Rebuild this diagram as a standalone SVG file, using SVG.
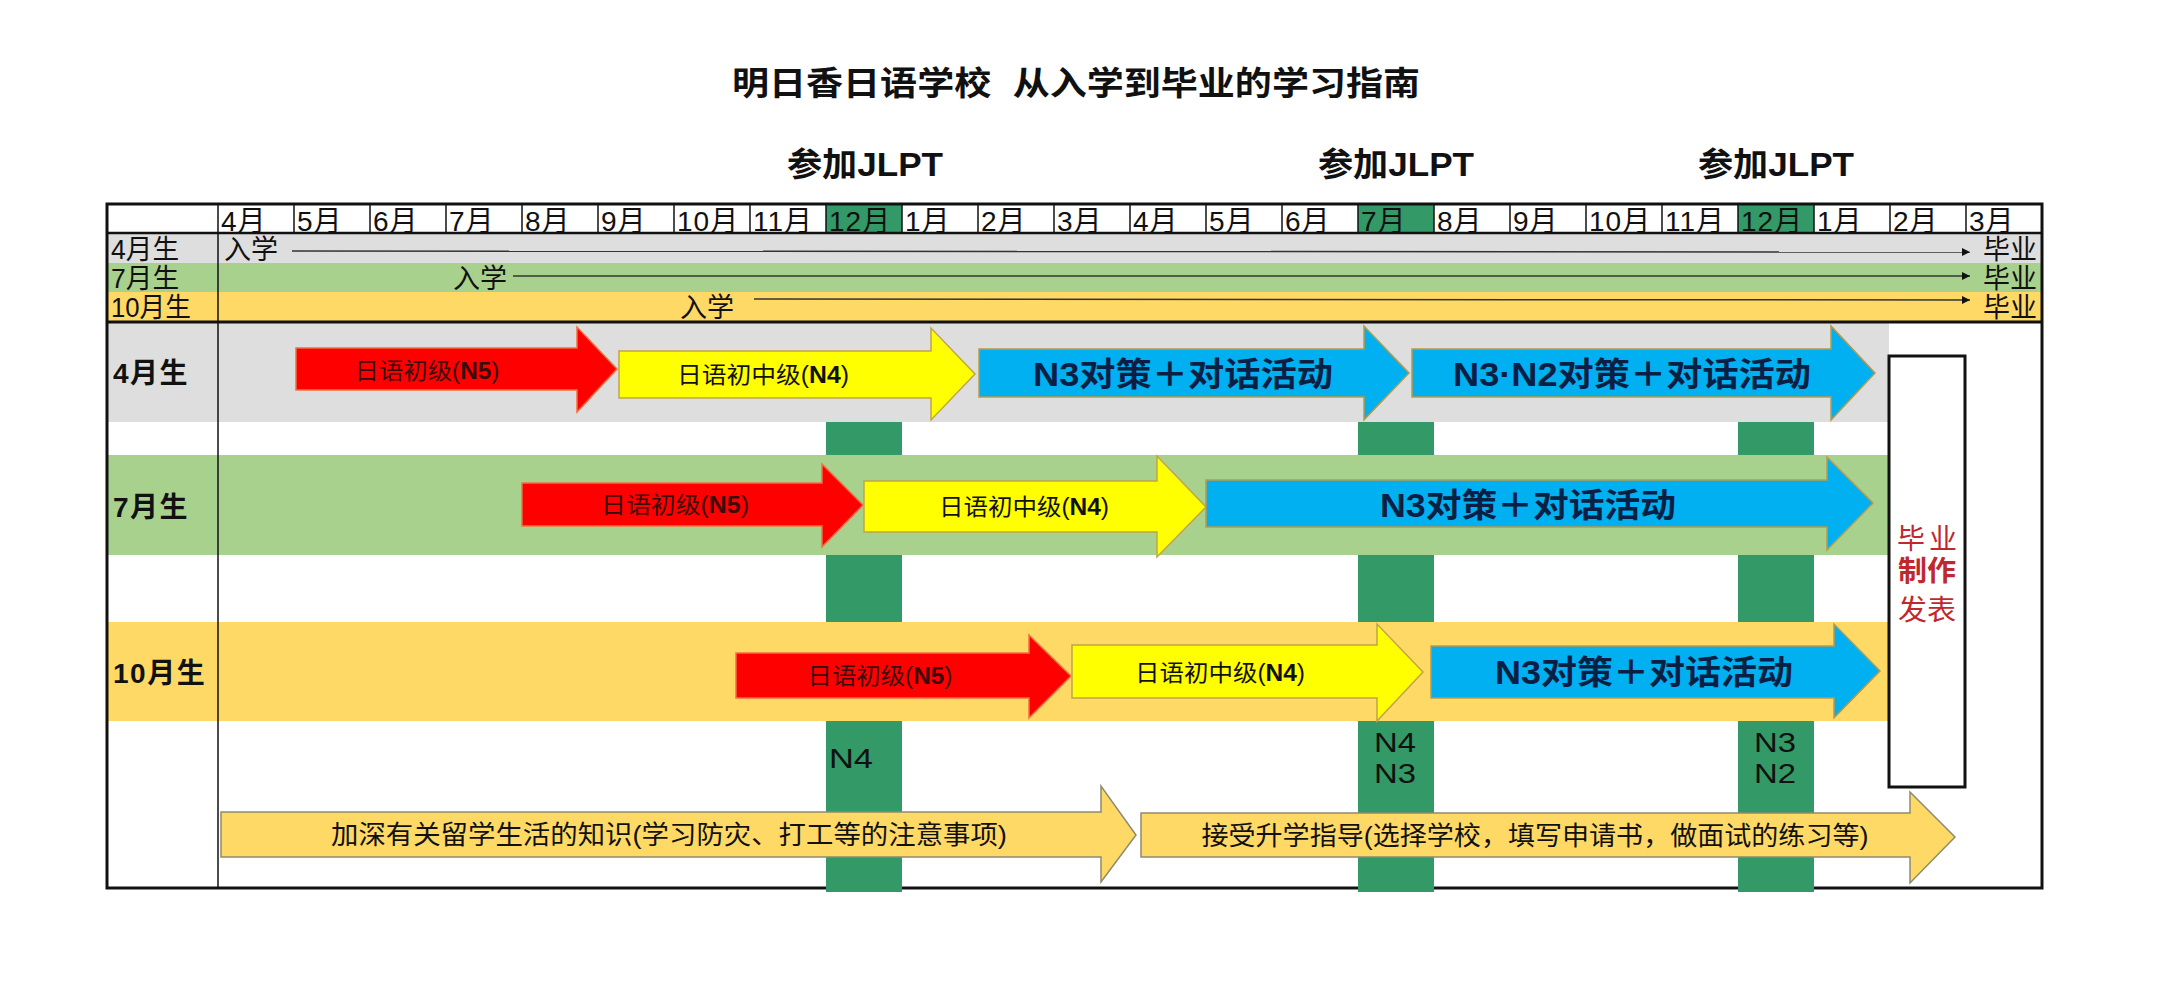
<svg xmlns="http://www.w3.org/2000/svg" width="2166" height="995" viewBox="0 0 2166 995">
<style>
text{font-family:"Liberation Sans","Noto Sans CJK SC",sans-serif;fill:#111}
.b{font-weight:bold}
.mon{font-size:28px;letter-spacing:1px}
.sm{font-size:27px}
.big{font-size:28px;font-weight:bold;letter-spacing:1.5px}
.red{fill:#FF0000;stroke:#F07040;stroke-width:1.5}
.yel{fill:#FFFF00;stroke:#BFA54A;stroke-width:1.5}
.blu{fill:#00B0F0;stroke:#B89B4A;stroke-width:1.5}
.bot{fill:#FFD966;stroke:#8E8A70;stroke-width:1.5}
.t1{font-size:23px;fill:#3a0c0c}
.t2{font-size:23px;fill:#111}
.t3{font-size:33px;font-weight:bold;fill:#0A1F44}
.t4{font-size:26px;fill:#111}
.nl{font-size:28px;fill:#111}
.bx{font-size:28px;fill:#C0282E}
.jl{fill:#339966}
.gry{fill:#DEDEDE}
.grn{fill:#A9D18E}
.ylw{fill:#FFD966}
.ln{stroke:#111;stroke-width:1.5;fill:none}
.con{stroke:#333;stroke-width:1.5;fill:none;marker-end:url(#ah)}
</style>
<defs>
<marker id="ah" viewBox="0 0 10 10" refX="10" refY="5" markerWidth="8" markerHeight="8" markerUnits="userSpaceOnUse" orient="auto">
<path d="M0,0 L10,5 L0,10 z" fill="#111"/>
</marker>
</defs>
<rect width="2166" height="995" fill="#fff"/>
<g id="title">
<text x="1076" y="95" class="b" style="font-size:33px" text-anchor="middle" textLength="688" lengthAdjust="spacingAndGlyphs">明日香日语学校<tspan dx="10"> </tspan>从入学到毕业的学习指南</text>
</g>
<g id="jlpt-labels">
<text x="865" y="176" class="b" style="font-size:33px" text-anchor="middle" textLength="156" lengthAdjust="spacingAndGlyphs">参加JLPT</text>
<text x="1396" y="176" class="b" style="font-size:33px" text-anchor="middle" textLength="156" lengthAdjust="spacingAndGlyphs">参加JLPT</text>
<text x="1776" y="176" class="b" style="font-size:33px" text-anchor="middle" textLength="156" lengthAdjust="spacingAndGlyphs">参加JLPT</text>
</g>
<g id="jlpt-columns">
<rect class="jl" x="826" y="204" width="76" height="29"/>
<rect class="jl" x="1358" y="204" width="76" height="29"/>
<rect class="jl" x="1738" y="204" width="76" height="29"/>
<rect class="jl" x="826" y="322" width="76" height="570"/>
<rect class="jl" x="1358" y="322" width="76" height="570"/>
<rect class="jl" x="1738" y="322" width="76" height="570"/>
</g>
<g id="bands">
<rect class="gry" x="107" y="233" width="1935" height="30"/>
<rect class="grn" x="107" y="263" width="1935" height="29"/>
<rect class="ylw" x="107" y="292" width="1935" height="30"/>
<rect class="gry" x="107" y="322" width="1782" height="100"/>
<rect class="grn" x="107" y="455" width="1782" height="100"/>
<rect class="ylw" x="107" y="622" width="1782" height="99"/>
</g>
<g id="table-lines">
<line class="ln" x1="294" y1="204" x2="294" y2="233"/>
<line class="ln" x1="370" y1="204" x2="370" y2="233"/>
<line class="ln" x1="446" y1="204" x2="446" y2="233"/>
<line class="ln" x1="522" y1="204" x2="522" y2="233"/>
<line class="ln" x1="598" y1="204" x2="598" y2="233"/>
<line class="ln" x1="674" y1="204" x2="674" y2="233"/>
<line class="ln" x1="750" y1="204" x2="750" y2="233"/>
<line class="ln" x1="826" y1="204" x2="826" y2="233"/>
<line class="ln" x1="902" y1="204" x2="902" y2="233"/>
<line class="ln" x1="978" y1="204" x2="978" y2="233"/>
<line class="ln" x1="1054" y1="204" x2="1054" y2="233"/>
<line class="ln" x1="1130" y1="204" x2="1130" y2="233"/>
<line class="ln" x1="1206" y1="204" x2="1206" y2="233"/>
<line class="ln" x1="1282" y1="204" x2="1282" y2="233"/>
<line class="ln" x1="1358" y1="204" x2="1358" y2="233"/>
<line class="ln" x1="1434" y1="204" x2="1434" y2="233"/>
<line class="ln" x1="1510" y1="204" x2="1510" y2="233"/>
<line class="ln" x1="1586" y1="204" x2="1586" y2="233"/>
<line class="ln" x1="1662" y1="204" x2="1662" y2="233"/>
<line class="ln" x1="1738" y1="204" x2="1738" y2="233"/>
<line class="ln" x1="1814" y1="204" x2="1814" y2="233"/>
<line class="ln" x1="1890" y1="204" x2="1890" y2="233"/>
<line class="ln" x1="1966" y1="204" x2="1966" y2="233"/>
<line class="ln" x1="218" y1="204" x2="218" y2="888"/>
<line x1="107" y1="233" x2="2042" y2="233" stroke="#111" stroke-width="2.5"/>
<line x1="107" y1="322" x2="2042" y2="322" stroke="#111" stroke-width="3"/>
<rect x="107" y="204" width="1935" height="684" fill="none" stroke="#111" stroke-width="3"/>
</g>
<g id="jlpt-bottom-caps">
<rect class="jl" x="826" y="884" width="76" height="8"/>
<rect class="jl" x="1358" y="884" width="76" height="8"/>
<rect class="jl" x="1738" y="884" width="76" height="8"/>
</g>
<g id="months">
<text class="mon" x="221" y="231">4月</text>
<text class="mon" x="297" y="231">5月</text>
<text class="mon" x="373" y="231">6月</text>
<text class="mon" x="449" y="231">7月</text>
<text class="mon" x="525" y="231">8月</text>
<text class="mon" x="601" y="231">9月</text>
<text class="mon" x="677" y="231">10月</text>
<text class="mon" x="753" y="231">11月</text>
<text class="mon" x="829" y="231">12月</text>
<text class="mon" x="905" y="231">1月</text>
<text class="mon" x="981" y="231">2月</text>
<text class="mon" x="1057" y="231">3月</text>
<text class="mon" x="1133" y="231">4月</text>
<text class="mon" x="1209" y="231">5月</text>
<text class="mon" x="1285" y="231">6月</text>
<text class="mon" x="1361" y="231">7月</text>
<text class="mon" x="1437" y="231">8月</text>
<text class="mon" x="1513" y="231">9月</text>
<text class="mon" x="1589" y="231">10月</text>
<text class="mon" x="1665" y="231">11月</text>
<text class="mon" x="1741" y="231">12月</text>
<text class="mon" x="1817" y="231">1月</text>
<text class="mon" x="1893" y="231">2月</text>
<text class="mon" x="1969" y="231">3月</text>
</g>
<g id="row-labels">
<text class="sm" x="111" y="259" textLength="68" lengthAdjust="spacingAndGlyphs">4月生</text>
<text class="sm" x="111" y="288" textLength="68" lengthAdjust="spacingAndGlyphs">7月生</text>
<text class="sm" x="111" y="317" textLength="80" lengthAdjust="spacingAndGlyphs">10月生</text>
<text class="big" x="113" y="383">4月生</text>
<text class="big" x="113" y="517">7月生</text>
<text class="big" x="113" y="683">10月生</text>
</g>
<g id="enrol-texts">
<text class="sm" x="224" y="259">入学</text>
<text class="sm" x="453" y="288">入学</text>
<text class="sm" x="680" y="317">入学</text>
<text class="sm" x="1983" y="259" textLength="54" lengthAdjust="spacingAndGlyphs">毕业</text>
<text class="sm" x="1983" y="288" textLength="54" lengthAdjust="spacingAndGlyphs">毕业</text>
<text class="sm" x="1983" y="317" textLength="54" lengthAdjust="spacingAndGlyphs">毕业</text>
</g>
<g id="connectors">
<line class="con" x1="292" y1="251" x2="1970" y2="252"/>
<line class="con" x1="513" y1="276" x2="1970" y2="276"/>
<line class="con" x1="754" y1="299" x2="1970" y2="300"/>
</g>
<g id="apr-n5">
<polygon class="red" points="296,348 577,348 577,327 617,369 577,412 577,390 296,390"/>
<text class="t1" x="427" y="379" text-anchor="middle" textLength="145" lengthAdjust="spacingAndGlyphs">日语初级(<tspan class="b">N5</tspan>)</text>
</g>
<g id="apr-n4">
<polygon class="yel" points="619,351 931,351 931,328 975,374 931,420 931,398 619,398"/>
<text class="t2" x="763" y="383" text-anchor="middle" textLength="172" lengthAdjust="spacingAndGlyphs">日语初中级(<tspan class="b">N4</tspan>)</text>
</g>
<g id="apr-n3">
<polygon class="blu" points="979,349 1364,349 1364,326 1409,373 1364,420 1364,397 979,397"/>
<text class="t3" x="1183" y="386" text-anchor="middle" textLength="300" lengthAdjust="spacingAndGlyphs">N3对策＋对话活动</text>
</g>
<g id="apr-n2">
<polygon class="blu" points="1412,349 1831,349 1831,326 1875,373 1831,420 1831,397 1412,397"/>
<text class="t3" x="1632" y="386" text-anchor="middle" textLength="358" lengthAdjust="spacingAndGlyphs">N3·N2对策＋对话活动</text>
</g>
<g id="jul-n5">
<polygon class="red" points="522,483 822,483 822,464 863,505 822,547 822,526 522,526"/>
<text class="t1" x="675" y="513" text-anchor="middle" textLength="148" lengthAdjust="spacingAndGlyphs">日语初级(<tspan class="b">N5</tspan>)</text>
</g>
<g id="jul-n4">
<polygon class="yel" points="864,481 1157,481 1157,456 1206,507 1157,557 1157,532 864,532"/>
<text class="t2" x="1024" y="515" text-anchor="middle" textLength="170" lengthAdjust="spacingAndGlyphs">日语初中级(<tspan class="b">N4</tspan>)</text>
</g>
<g id="jul-n3">
<polygon class="blu" points="1206,480 1827,480 1827,457 1873,503 1827,550 1827,527 1206,527"/>
<text class="t3" x="1528" y="517" text-anchor="middle" textLength="296" lengthAdjust="spacingAndGlyphs">N3对策＋对话活动</text>
</g>
<g id="oct-n5">
<polygon class="red" points="736,653 1029,653 1029,635 1071,676 1029,718 1029,698 736,698"/>
<text class="t1" x="880" y="684" text-anchor="middle" textLength="145" lengthAdjust="spacingAndGlyphs">日语初级(<tspan class="b">N5</tspan>)</text>
</g>
<g id="oct-n4">
<polygon class="yel" points="1072,645 1377,645 1377,624 1423,672 1377,721 1377,698 1072,698"/>
<text class="t2" x="1220" y="681" text-anchor="middle" textLength="170" lengthAdjust="spacingAndGlyphs">日语初中级(<tspan class="b">N4</tspan>)</text>
</g>
<g id="oct-n3">
<polygon class="blu" points="1431,646 1834,646 1834,624 1880,671 1834,718 1834,698 1431,698"/>
<text class="t3" x="1644" y="684" text-anchor="middle" textLength="298" lengthAdjust="spacingAndGlyphs">N3对策＋对话活动</text>
</g>
<g id="jlpt-levels">
<text class="nl" x="829" y="768" textLength="44" lengthAdjust="spacingAndGlyphs">N4</text>
<text class="nl" x="1395" y="752" text-anchor="middle" textLength="42" lengthAdjust="spacingAndGlyphs">N4</text>
<text class="nl" x="1395" y="783" text-anchor="middle" textLength="42" lengthAdjust="spacingAndGlyphs">N3</text>
<text class="nl" x="1775" y="752" text-anchor="middle" textLength="42" lengthAdjust="spacingAndGlyphs">N3</text>
<text class="nl" x="1775" y="783" text-anchor="middle" textLength="42" lengthAdjust="spacingAndGlyphs">N2</text>
</g>
<g id="graduation-box">
<rect x="1889" y="356" width="76" height="431" fill="#fff" stroke="#111" stroke-width="3"/>
<text class="bx" x="1927" y="549" text-anchor="middle" textLength="60" lengthAdjust="spacing">毕业</text>
<text class="bx b" x="1927" y="581" text-anchor="middle" textLength="58" lengthAdjust="spacingAndGlyphs">制作</text>
<text class="bx" x="1927" y="620" text-anchor="middle" textLength="58" lengthAdjust="spacingAndGlyphs">发表</text>
</g>
<g id="life-knowledge">
<polygon class="bot" points="221,812 1101,812 1101,786 1136,835 1101,882 1101,857 221,857"/>
<text class="t4" x="669" y="844" text-anchor="middle" textLength="676" lengthAdjust="spacingAndGlyphs">加深有关留学生活的知识(学习防灾、打工等的注意事项)</text>
</g>
<g id="career-guidance">
<polygon class="bot" points="1141,813 1910,813 1910,792 1955,837 1910,883 1910,857 1141,857"/>
<text class="t4" x="1535" y="845" text-anchor="middle" textLength="667" lengthAdjust="spacingAndGlyphs">接受升学指导(选择学校，填写申请书，做面试的练习等)</text>
</g>
</svg>
